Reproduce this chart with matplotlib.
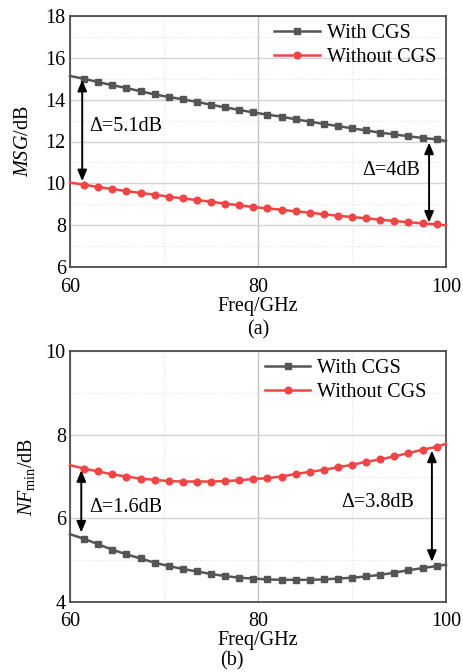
import numpy as np
import matplotlib
matplotlib.use("Agg")
import matplotlib.pyplot as plt
from matplotlib.ticker import MultipleLocator

plt.rcParams['font.family'] = ['Liberation Serif', 'DejaVu Serif']
plt.rcParams['mathtext.fontset'] = 'custom'
plt.rcParams['mathtext.rm'] = 'Liberation Serif'
plt.rcParams['mathtext.it'] = 'Liberation Serif:italic'

freq = [60, 61.5, 63, 64.5, 66, 67.5, 69, 70.5, 72, 73.5, 75, 76.5, 78, 79.5,
        81, 82.5, 84, 85.5, 87, 88.5, 90, 91.5, 93, 94.5, 96, 97.5, 99, 100]

msg_with = [15.13, 15.00, 14.84, 14.69, 14.56, 14.40, 14.25, 14.13, 14.02, 13.89,
            13.76, 13.63, 13.51, 13.39, 13.28, 13.19, 13.06, 12.95, 12.84, 12.74,
            12.63, 12.53, 12.42, 12.34, 12.25, 12.17, 12.10, 12.02]
msg_without = [10.03, 9.94, 9.82, 9.73, 9.63, 9.54, 9.46, 9.36, 9.28, 9.20,
               9.12, 9.03, 8.95, 8.87, 8.80, 8.74, 8.66, 8.60, 8.52, 8.45,
               8.39, 8.33, 8.26, 8.20, 8.14, 8.09, 8.04, 7.99]

nf_with = [5.62, 5.51, 5.38, 5.25, 5.14, 5.04, 4.94, 4.86, 4.79, 4.73,
           4.67, 4.62, 4.58, 4.56, 4.54, 4.53, 4.53, 4.53, 4.54, 4.56,
           4.58, 4.61, 4.65, 4.70, 4.76, 4.81, 4.86, 4.89]
nf_without = [7.27, 7.19, 7.12, 7.05, 7.00, 6.95, 6.92, 6.89, 6.88, 6.88,
              6.88, 6.89, 6.91, 6.94, 6.96, 7.00, 7.06, 7.11, 7.16, 7.22,
              7.28, 7.35, 7.41, 7.48, 7.56, 7.64, 7.71, 7.78]

labels = ["With CGS", "Without CGS"]
gray = "#555555"
red = "#f04545"

fig = plt.figure(figsize=(4.63, 6.72), dpi=100)
ax1 = fig.add_axes([70/463, 1-267/672, 376/463, 251/672])
ax2 = fig.add_axes([70/463, 1-602/672, 376/463, 251/672])

def style(ax, ylim, ystep, tpad, lpad):
    ax.set_xlim(60, 100)
    ax.set_ylim(*ylim)
    ax.xaxis.set_major_locator(MultipleLocator(20))
    ax.xaxis.set_minor_locator(MultipleLocator(10))
    ax.yaxis.set_major_locator(MultipleLocator(ystep))
    ax.yaxis.set_minor_locator(MultipleLocator(ystep/2))
    ax.grid(which='major', axis='y', color='#d4d4d4', lw=1.0)
    ax.grid(which='major', axis='x', color='#c4c4c4', lw=1.0)
    ax.grid(which='minor', color='#e2e2e2', lw=0.8, ls=':')
    ax.set_axisbelow(True)
    for s in ax.spines.values():
        s.set_color('#404040')
        s.set_linewidth(1.2)
    ax.tick_params(which='both', length=0, labelsize=14.5, colors='black')
    ax.tick_params(axis='y', pad=3)
    ax.tick_params(axis='x', pad=tpad)
    ax.set_xlabel("Freq/GHz", fontsize=14.5, labelpad=lpad)

def plot_pair(ax, a, b, anchor):
    ax.plot(freq, a, color=gray, lw=1.8, marker='s', ms=4.2, markevery=slice(1, -1),
            label=labels[0], clip_on=False, zorder=3)
    ax.plot(freq, b, color=red, lw=1.8, marker='o', ms=4.8, markevery=slice(1, -1),
            label=labels[1], clip_on=False, zorder=3)
    leg = ax.legend(loc='upper right', frameon=False, fontsize=14.5, handlelength=2.25,
                    handletextpad=0.35, labelspacing=0.25, borderaxespad=0.0,
                    bbox_to_anchor=anchor)
    return leg

def darrow(ax, x, y0, y1):
    ax.annotate('', xy=(x, y1), xytext=(x, y0),
                arrowprops=dict(arrowstyle='<|-|>,head_length=0.6,head_width=0.25',
                                color='black', lw=1.4,
                                mutation_scale=11, shrinkA=0, shrinkB=0), zorder=4)

style(ax1, (6, 18), 2, 8, 0)
plot_pair(ax1, msg_with, msg_without, (0.995, 1.0))
ax1.set_ylabel(r"$\mathit{MSG}$/dB", fontsize=14.5, labelpad=9)
darrow(ax1, 61.3, 14.95, 10.1)
darrow(ax1, 98.2, 11.95, 8.12)
ax1.text(62.1, 12.7, "Δ=5.1dB", fontsize=14.5, va='center', ha='left')
ax1.text(97.3, 10.62, "Δ=4dB", fontsize=14.5, va='center', ha='right')
ax1.text(0.5, -0.25, "(a)", transform=ax1.transAxes, ha='center', va='center', fontsize=14.5)

style(ax2, (4, 10), 2, 7, 0)
plot_pair(ax2, nf_with, nf_without, (0.97, 1.0))
ax2.set_ylabel(r"$\mathit{NF}_{\mathrm{min}}$/dB", fontsize=14.5, labelpad=6)
darrow(ax2, 61.2, 7.15, 5.66)
darrow(ax2, 98.5, 7.62, 4.96)
ax2.text(62.1, 6.25, "Δ=1.6dB", fontsize=14.5, va='center', ha='left')
ax2.text(96.6, 6.39, "Δ=3.8dB", fontsize=14.5, va='center', ha='right')
ax2.text(0.5, 1 - 661/672, "(b)", transform=fig.transFigure, ha='center', va='center', fontsize=14.5)

fig.savefig("out.png", dpi=100)
